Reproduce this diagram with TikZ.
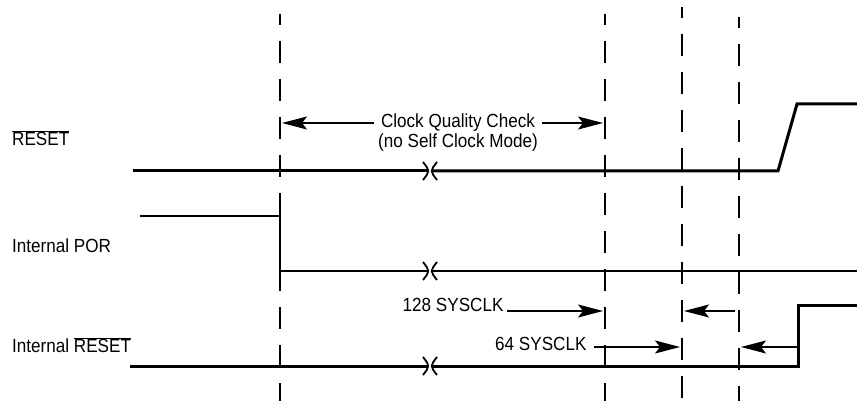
\documentclass[tikz,border=0pt]{standalone}
\usepackage{fontspec}
\setmainfont{Liberation Sans}[FakeStretch=0.9]
\usetikzlibrary{positioning, arrows.meta}

\begin{document}
\begin{tikzpicture}[x=1pt, y=-1pt,
    every node/.style={font=\fontsize{19}{20}\selectfont},
    sig/.style={line width=3pt},
    thinsig/.style={line width=1.5pt},
    brk/.style={line width=1.8pt},
    marker/.style={line width=1.4pt, dash pattern=on 22pt off 16pt, dash phase=11pt},
    dim/.style={line width=1.3pt, shorten >=2pt, -{Stealth[length=25pt, width=13pt, inset=5pt]}}]
    \useasboundingbox (0,0) rectangle (857,401);
    % time markers
    \coordinate (ta) at (280,14);
    \coordinate (tb) at (605,14);
    \coordinate (tc) at (682,7);
    \coordinate (td) at (739,17);
    \foreach \t in {ta,tb,tc,td}
      \draw[marker] (\t) -- (\t |- 0,401);
    % labels
    \node[anchor=west, inner sep=0pt] (lreset) at (12,138) {$\overline{\hbox{RESET}}$};
    \node[anchor=west, inner sep=0pt] (lpor) at (12,246) {Internal POR};
    \node[anchor=west, inner sep=0pt] (lint) at (12,345) {Internal $\overline{\hbox{RESET}}$};
    % waveforms
    \draw[sig] (133,171) -- (427,171);
    \draw[sig] (433,171) -- (778,171) -- (797,104) -- (857,104);
    \draw[thinsig] (140,216) -- (280,216) -- (280,271) -- (427,271);
    \draw[thinsig] (433,271) -- (857,271);
    \draw[sig] (130,366) -- (427,366);
    \draw[sig] (433,366) -- (798,366) -- (798,305) -- (857,305);
    \foreach \y in {171,271,366} {
      \draw[brk] (423,\y-9) .. controls (430,\y) .. (423,\y+9);
      \draw[brk] (437,\y-9) .. controls (430,\y) .. (437,\y+9);
    }
    % clock quality check
    \node[inner xsep=7pt] (cqc) at (458,123) {Clock Quality Check};
    \node (nscm) at (458,143) {(no Self Clock Mode)};
    \draw[dim] (cqc.west) -- (cqc.west -| ta);
    \draw[dim] (cqc.east) -- (cqc.east -| tb);
    % sysclk counts
    \node[anchor=east] (s128) at (507,305) {128 SYSCLK};
    \draw[dim] ([yshift=-6pt]s128.east) -- ([yshift=-6pt]s128.east -| tb);
    \coordinate (back) at (735,311);
    \draw[dim] (back) -- (back -| tc);
    \node[anchor=east] (s64) at (590,344) {64 SYSCLK};
    \draw[dim] ([yshift=-3pt, xshift=4pt]s64.east) -- ([yshift=-3pt]s64.east -| tc);
    \coordinate (rise) at (798,347);
    \draw[dim] (rise) -- (rise -| td);
  \end{tikzpicture}
\end{document}
